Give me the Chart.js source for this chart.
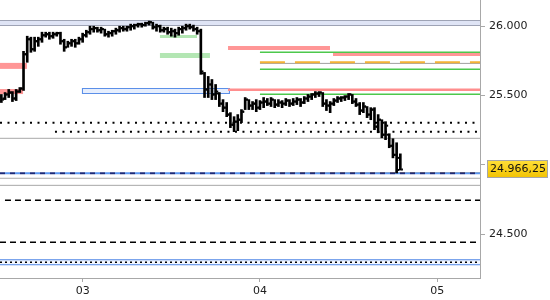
<!DOCTYPE html>
<html><head><meta charset="utf-8">
<script src="https://cdn.jsdelivr.net/npm/chart.js@4.4.1/dist/chart.umd.min.js"></script>
<style>html,body{margin:0;padding:0;background:#fff;overflow:hidden}canvas{display:block}</style>
</head><body>
<canvas id="c" width="550" height="300"></canvas>
<script>
// ---- axes (x in days of the month) ----
const dayTicks = [3, 4, 5];
const xMin = 2.534, xMax = 5.241;
const yTicks = [24500, 25000, 25500, 26000];
const yMin = 24184, yMax = 26188;

// ---- 30-minute OHLC bars starting day 2, 13:00 ----
const barStart = 2 + 13/24;
const barStep = 1/48;
const opens = [25492,25478,25507,25521,25478,25528,25550,25797,25905,25833,
25891,25905,25934,25941,25927,25941,25949,25891,25847,25876,
25891,25876,25905,25934,25956,25978,25985,25970,25978,25941,
25949,25963,25970,25985,25978,25992,25999,26007,26014,26007,
26021,26028,25992,25999,25970,25978,25956,25963,25949,25978,
25985,25999,25992,25978,25963,25659,25543,25579,25507,25514,
25441,25412,25362,25289,25311,25325,25383,25470,25427,25441,
25412,25449,25456,25441,25470,25434,25449,25441,25463,25441,
25456,25470,25449,25478,25492,25507,25514,25521,25441,25427,
25441,25463,25478,25485,25492,25507,25456,25434,25391,25420,
25362,25398,25275,25325,25217,25217,25137,25072,25050];
const highs = [25507,25521,25543,25528,25543,25557,25818,25927,25920,25920,
25920,25956,25956,25956,25956,25956,25956,25905,25891,25905,
25905,25920,25949,25970,25999,25999,25992,25992,25978,25963,
25970,25985,25999,25999,25999,26014,26014,26021,26021,26028,
26036,26028,26014,26007,25992,25992,25985,25978,25992,25999,
26014,26014,26007,25992,25978,25666,25637,25615,25579,25521,
25470,25449,25376,25347,25362,25398,25485,25470,25456,25470,
25463,25485,25478,25485,25470,25470,25463,25478,25470,25478,
25485,25478,25492,25507,25514,25528,25528,25521,25470,25456,
25478,25492,25492,25499,25514,25507,25478,25449,25449,25420,
25412,25412,25362,25325,25311,25224,25188,25159,25079];
const lows = [25449,25470,25485,25456,25463,25521,25536,25739,25811,25818,
25854,25883,25920,25905,25912,25927,25869,25818,25847,25854,
25847,25869,25883,25920,25941,25956,25956,25949,25927,25920,
25927,25941,25956,25963,25963,25970,25978,25992,25992,25999,
26007,25978,25963,25956,25956,25941,25927,25920,25934,25949,
25970,25978,25963,25941,25652,25485,25485,25470,25470,25420,
25383,25347,25268,25239,25246,25304,25398,25398,25398,25383,
25398,25412,25427,25420,25412,25420,25412,25427,25420,25427,
25434,25420,25441,25456,25470,25485,25492,25420,25391,25376,
25427,25449,25456,25463,25470,25441,25420,25362,25376,25340,
25325,25253,25231,25195,25181,25123,25050,24941,24962];
const closes = [25470,25507,25521,25478,25528,25550,25797,25905,25833,25891,
25905,25934,25941,25927,25941,25949,25891,25847,25876,25891,
25876,25905,25934,25956,25978,25985,25970,25978,25941,25949,
25963,25970,25985,25978,25992,25999,26007,26014,26007,26021,
26028,25992,25999,25970,25978,25956,25963,25949,25978,25985,
25999,25992,25978,25963,25673,25543,25579,25507,25528,25441,
25412,25362,25289,25311,25325,25383,25470,25427,25441,25412,
25449,25456,25441,25470,25434,25449,25441,25463,25441,25456,
25470,25449,25478,25492,25507,25514,25521,25441,25427,25441,
25463,25478,25485,25492,25507,25456,25434,25391,25420,25362,
25398,25275,25325,25217,25282,25137,25072,24963,24966.25];
const lastPrice = 24966.25;

// ---- horizontal levels: [price, fromDay, toDay] ----
const upperZone   = [26023, xMin, xMax];
const redZoneA    = [25713, xMin, 2.686];
const redZoneB    = [25528, xMin, 2.664];
const greenZoneA  = [25925, 3.436, 3.645];
const greenZoneB  = [25788, 3.436, 3.718];
const blueBox     = [25532, 2.996, 3.831];
const blueBoxIn   = [25532, 3.002, 3.825];
const redZoneC    = [25842, 3.820, 4.395];
const greenLineA  = [25811, 4.0, xMax];
const redZoneD    = [25795, 4.412, xMax];
const orangeLineA = [25739, 4.0, xMax];
const grayLineA   = [25731, 4.0, xMax];
const greenLineB  = [25688, 4.0, xMax];
const redLine     = [25541, 3.820, xMax];
const greenLineC  = [25508, 4.0, xMax];
const dottedA     = [25303, xMin, xMax];
const dottedB     = [25239, 2.844, xMax];
const grayLineB   = [25191, xMin, xMax];
const navyDashed  = [24939, xMin, xMax];
const orangeLineB = [24942, 4.0, xMax];
const grayLineC   = [24903, xMin, xMax];
const grayLineD   = [24852, xMin, xMax];
const dashedA     = [24744, 2.562, xMax];
const dashedB     = [24441, xMin, xMax];
const lowerZone   = [24297, xMin, xMax];

function hline(level, style) {
  return Object.assign({
    type: 'line',
    data: [{x: level[1], y: level[0]}, {x: level[2], y: level[0]}],
    pointRadius: 0, borderWidth: 1, fill: false, tension: 0, order: 5
  }, style);
}
function fmtInt(v) { return String(Math.trunc(v)).replace(/\B(?=(\d{3})+(?!\d))/g, '.'); }
function fmtPrice(v) {
  const s = v.toFixed(2).split('.');
  return fmtInt(+s[0]) + ',' + s[1];
}

const datasets = [
  { type: 'bar', order: 0, grouped: false, barThickness: 2, backgroundColor: '#000',
    data: highs.map((h, i) => ({x: barStart + i * barStep, y: [lows[i], h]})) },
  hline(upperZone, {borderColor: '#9ea3b5', borderWidth: 6, order: 9}),
  hline(upperZone, {borderColor: '#dfe4f5', borderWidth: 4, order: 8}),
  hline(redZoneA, {borderColor: '#ff9696', borderWidth: 6}),
  hline(redZoneB, {borderColor: '#ff9696', borderWidth: 5}),
  hline(greenZoneA, {borderColor: '#b3e6b3', borderWidth: 3}),
  hline(greenZoneB, {borderColor: '#b3e6b3', borderWidth: 5}),
  hline(blueBox, {borderColor: '#5b8fe8', borderWidth: 6, order: 9}),
  hline(blueBoxIn, {borderColor: '#e6eefd', borderWidth: 4, order: 8}),
  hline(redZoneC, {borderColor: '#ff9696', borderWidth: 4}),
  hline(greenLineA, {borderColor: '#4cc84c', borderWidth: 1.5}),
  hline(redZoneD, {borderColor: '#ff9696', borderWidth: 3}),
  hline(orangeLineA, {borderColor: '#f5b335', borderWidth: 2, borderDash: [25, 10]}),
  hline(grayLineA, {borderColor: '#a0a0a0', borderWidth: 1}),
  hline(greenLineB, {borderColor: '#4cc84c', borderWidth: 1.5}),
  hline(redLine, {borderColor: '#ff8e8e', borderWidth: 2.5}),
  hline(greenLineC, {borderColor: '#4cc84c', borderWidth: 1.5}),
  hline(dottedA, {borderColor: '#000', borderWidth: 2, borderDash: [2, 5.5]}),
  hline(dottedB, {borderColor: '#000', borderWidth: 2, borderDash: [2, 5.5]}),
  hline(grayLineB, {borderColor: '#a8a8a8', borderWidth: 1}),
  hline(navyDashed, {borderColor: '#1c2a78', borderWidth: 2, borderDash: [5, 5]}),
  hline(navyDashed, {borderColor: '#5b96f0', borderWidth: 2, borderDash: [5, 5], borderDashOffset: 5}),
  hline(orangeLineB, {borderColor: '#f5b335', borderWidth: 1, order: 6}),
  hline(grayLineC, {borderColor: '#a8a8a8', borderWidth: 1}),
  hline(grayLineD, {borderColor: '#a8a8a8', borderWidth: 1}),
  hline(dashedA, {borderColor: '#000', borderWidth: 1.5, borderDash: [6, 4]}),
  hline(dashedB, {borderColor: '#000', borderWidth: 1.5, borderDash: [6, 4]}),
  hline(lowerZone, {borderColor: '#4f86e6', borderWidth: 6, order: 9}),
  hline(lowerZone, {borderColor: '#f2f6fe', borderWidth: 4, order: 8}),
  hline(lowerZone, {borderColor: '#000', borderWidth: 1.5, borderDash: [2, 3], order: 7})
];

const ohlcTicks = {
  id: 'ohlcTicks',
  afterDatasetsDraw(chart) {
    const {ctx, chartArea: a, scales: {x, y}} = chart;
    ctx.save();
    ctx.beginPath(); ctx.rect(a.left, a.top, a.width, a.height); ctx.clip();
    ctx.fillStyle = '#000';
    for (let i = 0; i < opens.length; i++) {
      const px = x.getPixelForValue(barStart + i * barStep);
      const yo = y.getPixelForValue(opens[i]);
      const yc = y.getPixelForValue(closes[i]);
      ctx.fillRect(px - 2.6, yo - 1, 1.7, 2);
      ctx.fillRect(px + 0.9, yc - 1, 1.7, 2);
    }
    ctx.restore();
  }
};

const lastLabel = {
  id: 'lastLabel',
  afterDraw(chart) {
    const {ctx, chartArea: a, scales: {y}} = chart;
    const py = Math.round(y.getPixelForValue(lastPrice));
    const x0 = a.right + 7, w = 61, h = 18, top = py - 9;
    ctx.save();
    const g = ctx.createLinearGradient(0, top, 0, top + h);
    g.addColorStop(0, '#ffe03a'); g.addColorStop(1, '#f2c200');
    ctx.fillStyle = g; ctx.fillRect(x0, top, w, h);
    ctx.strokeStyle = '#a6a6a6'; ctx.lineWidth = 1; ctx.strokeRect(x0 + 0.5, top + 0.5, w - 1, h - 1);
    ctx.fillStyle = '#111'; ctx.font = '11px "DejaVu Sans"'; ctx.textBaseline = 'middle'; ctx.textAlign = 'left';
    ctx.fillText(fmtPrice(lastPrice), x0 + 3, top + h / 2 + 0.5);
    ctx.restore();
  }
};

Chart.defaults.font.family = '"DejaVu Sans", Verdana, sans-serif';
Chart.defaults.font.size = 11;
Chart.defaults.color = '#202020';

new Chart(document.getElementById('c'), {
  type: 'bar',
  data: { datasets },
  options: {
    responsive: false, animation: false, devicePixelRatio: 1,
    layout: { padding: 0 },
    plugins: { legend: { display: false }, tooltip: { enabled: false } },
    scales: {
      x: {
        type: 'linear', position: 'bottom', min: xMin, max: xMax, offset: false,
        afterBuildTicks: s => { s.ticks = dayTicks.map(v => ({value: v})); },
        ticks: { callback: v => (v < 10 ? '0' : '') + v, padding: 3, maxRotation: 0, autoSkip: false },
        grid: { offset: false, drawOnChartArea: false, drawTicks: true, tickLength: 4, color: '#a8a8a8' },
        border: { display: true, color: '#a8a8a8' },
        afterFit: s => { s.height = 22; s.paddingLeft = 0; s.paddingRight = 0; }
      },
      y: {
        type: 'linear', position: 'right', min: yMin, max: yMax,
        afterBuildTicks: s => { s.ticks = yTicks.map(v => ({value: v})); },
        ticks: { callback: v => (Math.abs(v - lastPrice) < 80 ? '' : fmtInt(v)), padding: 4, autoSkip: false },
        grid: { offset: false, drawOnChartArea: false, drawTicks: true, tickLength: 5, color: '#a8a8a8' },
        border: { display: true, color: '#a8a8a8' },
        afterFit: s => { s.width = 70; s.paddingTop = 0; s.paddingBottom = 0; }
      }
    }
  },
  plugins: [ohlcTicks, lastLabel]
});
</script>
</body></html>
